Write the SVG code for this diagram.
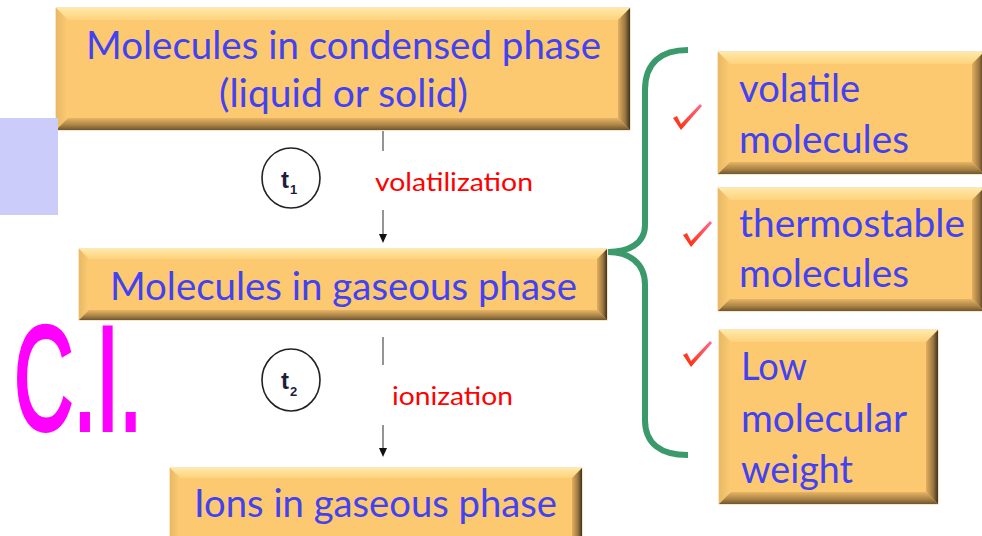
<svg xmlns="http://www.w3.org/2000/svg" width="982" height="536" viewBox="0 0 982 536">
<defs>
<linearGradient id="gT" x1="0" y1="0" x2="0" y2="1"><stop offset="0" stop-color="#FFE9A8"/><stop offset="1" stop-color="#FDD27C"/></linearGradient>
<linearGradient id="gL" x1="0" y1="0" x2="1" y2="0"><stop offset="0" stop-color="#E9B865"/><stop offset="1" stop-color="#FCCB72"/></linearGradient>
<linearGradient id="gB" x1="0" y1="0" x2="0" y2="1"><stop offset="0" stop-color="#E8B566"/><stop offset="0.6" stop-color="#A98244"/><stop offset="1" stop-color="#6E5530"/></linearGradient>
<linearGradient id="gR" x1="0" y1="0" x2="1" y2="0"><stop offset="0" stop-color="#E3AF60"/><stop offset="0.6" stop-color="#9A7640"/><stop offset="1" stop-color="#3F3220"/></linearGradient>
<linearGradient id="gChk" x1="0" y1="1" x2="1" y2="0"><stop offset="0" stop-color="#FF2A00"/><stop offset="1" stop-color="#FF6A8A"/></linearGradient>
<path id="chk" d="M0,14 L4,12 L8,20 L27,0 L29,2 L8,26 Z" fill="url(#gChk)"/>
</defs>
<style>
.main{fill:#FDC970;stroke:#EBC07A;stroke-width:0.8}
.bt{fill:url(#gT)}
.bl{fill:url(#gL)}
.bb{fill:url(#gB)}
.br{fill:url(#gR)}
.blue{font-family:Lato,"Liberation Sans",sans-serif;fill:#4242F2;font-size:38px}
.red{font-family:Lato,"Liberation Sans",sans-serif;fill:#FF0000;font-size:25px}
.conn{stroke:#7a7a7a;stroke-width:1.6;fill:none}
.tt{font-family:"Liberation Sans",Arial,sans-serif;font-weight:bold;fill:#1d1d3a}
</style>

<g id="node-condensed">
<rect class="main" x="56" y="8" width="574" height="122"/>
<polygon class="bt" points="56,8 630,8 618,20 68,20"/>
<polygon class="bl" points="56,8 68,20 68,118 56,130"/>
<polygon class="bb" points="56,130 68,118 618,118 630,130"/>
<polygon class="br" points="630,8 630,130 618,118 618,20"/>
<text class="blue" x="86" y="59" textLength="515" lengthAdjust="spacingAndGlyphs">Molecules in condensed phase</text>
<text class="blue" x="219" y="107" textLength="249" lengthAdjust="spacingAndGlyphs">(liquid or solid)</text>
</g>

<rect id="lavender" x="0" y="118" width="58" height="97" fill="#CCCCFA"/>

<g id="node-gaseous">
<rect class="main" x="79" y="249" width="528" height="71"/>
<polygon class="bt" points="79,249 607,249 597,259 89,259"/>
<polygon class="bl" points="79,249 89,259 89,310 79,320"/>
<polygon class="bb" points="79,320 89,310 597,310 607,320"/>
<polygon class="br" points="607,249 607,320 597,310 597,259"/>
<text class="blue" x="110" y="300" textLength="467" lengthAdjust="spacingAndGlyphs">Molecules in gaseous phase</text>
</g>

<g id="node-ions">
<rect class="main" x="170" y="468" width="412" height="80"/>
<polygon class="bt" points="170,468 582,468 572,478 180,478"/>
<polygon class="bl" points="170,468 180,478 180,538 170,548"/>
<polygon class="br" points="582,468 582,548 572,538 572,478"/>
<text class="blue" x="194" y="517" textLength="363" lengthAdjust="spacingAndGlyphs">Ions in gaseous phase</text>
</g>

<g id="node-volatile">
<rect class="main" x="718" y="52" width="266" height="122"/>
<polygon class="bt" points="718,52 984,52 972,64 730,64"/>
<polygon class="bl" points="718,52 730,64 730,162 718,174"/>
<polygon class="bb" points="718,174 730,162 972,162 984,174"/>
<polygon class="br" points="984,52 984,174 972,162 972,64"/>
<text class="blue" x="739" y="102" textLength="121" lengthAdjust="spacingAndGlyphs">volatile</text>
<text class="blue" x="739" y="153" textLength="170" lengthAdjust="spacingAndGlyphs">molecules</text>
</g>

<g id="node-thermostable">
<rect class="main" x="718" y="188" width="266" height="123"/>
<polygon class="bt" points="718,188 984,188 972,200 730,200"/>
<polygon class="bl" points="718,188 730,200 730,299 718,311"/>
<polygon class="bb" points="718,311 730,299 972,299 984,311"/>
<polygon class="br" points="984,188 984,311 972,299 972,200"/>
<text class="blue" x="739" y="237" textLength="226" lengthAdjust="spacingAndGlyphs">thermostable</text>
<text class="blue" x="739" y="287" textLength="170" lengthAdjust="spacingAndGlyphs">molecules</text>
</g>

<g id="node-lowmw">
<rect class="main" x="719" y="330" width="219" height="174"/>
<polygon class="bt" points="719,330 938,330 926,342 731,342"/>
<polygon class="bl" points="719,330 731,342 731,492 719,504"/>
<polygon class="bb" points="719,504 731,492 926,492 938,504"/>
<polygon class="br" points="938,330 938,504 926,492 926,342"/>
<text class="blue" x="741" y="380" textLength="66" lengthAdjust="spacingAndGlyphs">Low</text>
<text class="blue" x="741" y="432" textLength="166" lengthAdjust="spacingAndGlyphs">molecular</text>
<text class="blue" x="741" y="483" textLength="112" lengthAdjust="spacingAndGlyphs">weight</text>
</g>

<g id="connectors">
<line class="conn" x1="383" y1="131" x2="383" y2="151"/>
<line class="conn" x1="383" y1="210" x2="383" y2="235"/>
<path d="M379,234 L387,234 L383,243 Z" fill="#111"/>
<line class="conn" x1="383" y1="337" x2="383" y2="365"/>
<line class="conn" x1="383" y1="425" x2="383" y2="449"/>
<path d="M379,448 L387,448 L383,457 Z" fill="#111"/>
<path d="M688,50 C662,50 645,62 645,90 L645,225 C645,244 628,252 608,252 C628,252 645,262 645,285 L645,420 C645,443 660,455 688,455" fill="none" stroke="#3A9A6C" stroke-width="6"/>
</g>

<g id="label-volatilization"><text class="red" x="375" y="191" textLength="158" lengthAdjust="spacingAndGlyphs">volatilization</text></g>
<g id="label-ionization"><text class="red" x="392" y="405" textLength="121" lengthAdjust="spacingAndGlyphs">ionization</text></g>

<g id="t1">
<ellipse cx="291" cy="178" rx="29" ry="30" fill="none" stroke="#222" stroke-width="1.6"/>
<text class="tt" x="281" y="188" font-size="24">t</text>
<text class="tt" x="290" y="194" font-size="13">1</text>
</g>
<g id="t2">
<ellipse cx="291" cy="380" rx="29" ry="31" fill="none" stroke="#222" stroke-width="1.6"/>
<text class="tt" x="281" y="389" font-size="24">t</text>
<text class="tt" x="290" y="396" font-size="13">2</text>
</g>

<g id="CI">
<text x="14" y="430" font-family="'Liberation Sans',Arial,sans-serif" font-size="148" fill="#FF00FF" stroke="#FF00FF" stroke-width="4" textLength="128" lengthAdjust="spacingAndGlyphs">C.I.</text>
</g>

<g id="checks">
<use href="#chk" x="673" y="104"/>
<use href="#chk" x="683" y="221"/>
<use href="#chk" x="683" y="341"/>
</g>
</svg>
